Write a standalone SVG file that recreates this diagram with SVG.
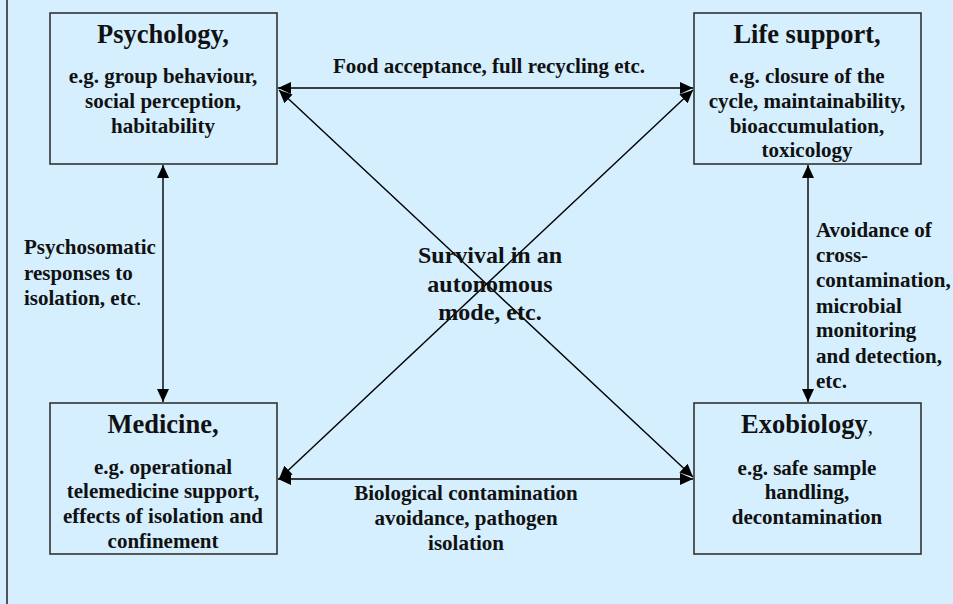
<svg xmlns="http://www.w3.org/2000/svg" width="953" height="604" viewBox="0 0 953 604">
<style>
.box{fill:none;stroke:#333;stroke-width:1.6}
.t{font-family:"Liberation Serif","Times New Roman",serif;font-weight:bold;fill:#111}
.title{font-size:26.5px;text-anchor:middle}
.sub{font-size:21px;text-anchor:middle}
.lbl{font-size:21px}
.c{text-anchor:middle}
.big{font-size:24px;text-anchor:middle}
.conn line{stroke:#000;stroke-width:1.4;marker-start:url(#ah);marker-end:url(#ah)}
</style>
<defs>
<marker id="ah" markerUnits="userSpaceOnUse" markerWidth="14" markerHeight="12" refX="13" refY="6" orient="auto-start-reverse" viewBox="0 0 14 12">
<path d="M0,0 L13,6 L0,12 z" fill="#000"/>
</marker>
</defs>
<rect width="953" height="604" fill="#D5EFFE"/>
<line x1="7" y1="0" x2="7" y2="604" stroke="#222" stroke-width="1.5"/>

<g class="conn" id="connectors">
<line x1="278" y1="88" x2="693" y2="88"/>
<line x1="278" y1="479" x2="693" y2="479"/>
<line x1="163" y1="165" x2="163" y2="402"/>
<line x1="808" y1="165" x2="808" y2="402"/>
<line x1="279" y1="90" x2="693" y2="477"/>
<line x1="693" y1="90" x2="279" y2="479"/>
</g>

<g id="edge-labels">
<text class="t lbl c" x="489" y="73">Food acceptance, full recycling etc.</text>
<text class="t lbl" x="24" y="254">Psychosomatic</text>
<text class="t lbl" x="24" y="280">responses to</text>
<text class="t lbl" x="24" y="305">isolation, etc<tspan font-weight="normal">.</tspan></text>
<text class="t lbl" x="816" y="237">Avoidance of</text>
<text class="t lbl" x="816" y="262">cross-</text>
<text class="t lbl" x="816" y="287">contamination,</text>
<text class="t lbl" x="816" y="313">microbial</text>
<text class="t lbl" x="816" y="337">monitoring</text>
<text class="t lbl" x="816" y="363">and detection,</text>
<text class="t lbl" x="816" y="388">etc.</text>
<text class="t lbl c" x="466" y="500">Biological contamination</text>
<text class="t lbl c" x="466" y="525">avoidance, pathogen</text>
<text class="t lbl c" x="466" y="550">isolation</text>
<text class="t big" x="490" y="263">Survival in an</text>
<text class="t big" x="490" y="292">autonomous</text>
<text class="t big" x="490" y="320">mode, etc.</text>
</g>

<g id="psychology">
<rect class="box" x="50" y="13" width="227" height="151"/>
<text class="t title" x="163" y="43">Psychology,</text>
<text class="t sub" x="163" y="83">e.g. group behaviour,</text>
<text class="t sub" x="163" y="108">social perception,</text>
<text class="t sub" x="163" y="133">habitability</text>
</g>

<g id="life-support">
<rect class="box" x="694" y="13" width="227" height="151"/>
<text class="t title" x="807" y="43">Life support,</text>
<text class="t sub" x="807" y="83">e.g. closure of the</text>
<text class="t sub" x="807" y="108">cycle, maintainability,</text>
<text class="t sub" x="807" y="133">bioaccumulation,</text>
<text class="t sub" x="807" y="157">toxicology</text>
</g>

<g id="medicine">
<rect class="box" x="50" y="403" width="227" height="151"/>
<text class="t title" x="163" y="433">Medicine,</text>
<text class="t sub" x="163" y="474">e.g. operational</text>
<text class="t sub" x="163" y="498">telemedicine support,</text>
<text class="t sub" x="163" y="523">effects of isolation and</text>
<text class="t sub" x="163" y="548">confinement</text>
</g>

<g id="exobiology">
<rect class="box" x="694" y="403" width="227" height="151"/>
<text class="t title" x="807" y="433">Exobiology<tspan font-weight="normal" font-size="21">,</tspan></text>
<text class="t sub" x="807" y="475">e.g. safe sample</text>
<text class="t sub" x="807" y="499">handling,</text>
<text class="t sub" x="807" y="524">decontamination</text>
</g>
</svg>
